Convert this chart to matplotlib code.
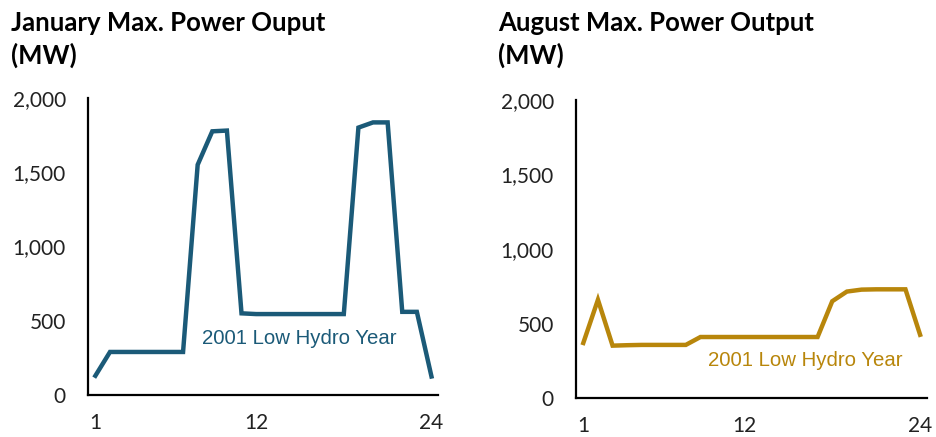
import matplotlib
matplotlib.use('Agg')
import numpy as np
import matplotlib.pyplot as plt

# hours of the day
hours = np.arange(1, 25)

# January max power output (MW), 2001 low hydro year
jan_mw = [130, 290, 290, 290, 290, 290, 290, 1550, 1775, 1780, 550, 545,
          545, 545, 545, 545, 545, 545, 1800, 1835, 1835, 560, 560, 125]

# August max power output (MW), 2001 low hydro year
aug_mw = [370, 660, 352, 355, 357, 357, 357, 357, 410, 410, 410, 410,
          410, 410, 410, 410, 410, 650, 715, 728, 730, 730, 730, 425]

x_ticks = [1, 12, 24]
y_ticks = [0, 500, 1000, 1500, 2000]

plt.rcParams['font.family'] = ['Lato', 'DejaVu Sans']

fig = plt.figure(figsize=(9.37, 4.37), dpi=100)
ax1 = fig.add_axes([0.094, 0.096, 0.3735, 0.68])
ax2 = fig.add_axes([0.6147, 0.089, 0.3743, 0.682])

def style(ax):
    ax.set_xlim(0.5, 24.45)
    ax.set_ylim(0, 2000)
    ax.set_xticks(x_ticks)
    ax.set_yticks(y_ticks)
    ax.set_yticklabels(['{:,}'.format(v) for v in y_ticks])
    for s in ['top', 'right']:
        ax.spines[s].set_visible(False)
    for s in ['left', 'bottom']:
        ax.spines[s].set_linewidth(1.6)
        ax.spines[s].set_color('black')
    ax.tick_params(length=0, labelsize=15, colors='#222222')
    ax.tick_params(axis='y', pad=16)
    ax.tick_params(axis='x', pad=13)

ax1.plot(hours, jan_mw, color='#1B5A78', lw=3.2, solid_joinstyle='miter')
style(ax1)
ax1.text(8.3, 383, '2001 Low Hydro Year', color='#1B5A78', fontsize=14.7,
         family='Liberation Sans', va='center')

ax2.plot(hours, aug_mw, color='#B8860B', lw=3.2, solid_joinstyle='miter')
style(ax2)
ax2.text(9.5, 255, '2001 Low Hydro Year', color='#B8860B', fontsize=14.7,
         family='Liberation Sans', va='center')

fig.text(0.012, 0.975, 'January Max. Power Ouput\n(MW)', fontsize=18.5,
         fontweight='bold', va='top', ha='left', linespacing=1.35)
fig.text(0.532, 0.975, 'August Max. Power Output\n(MW)', fontsize=18.5,
         fontweight='bold', va='top', ha='left', linespacing=1.35)

plt.savefig('out.png', dpi=100)
